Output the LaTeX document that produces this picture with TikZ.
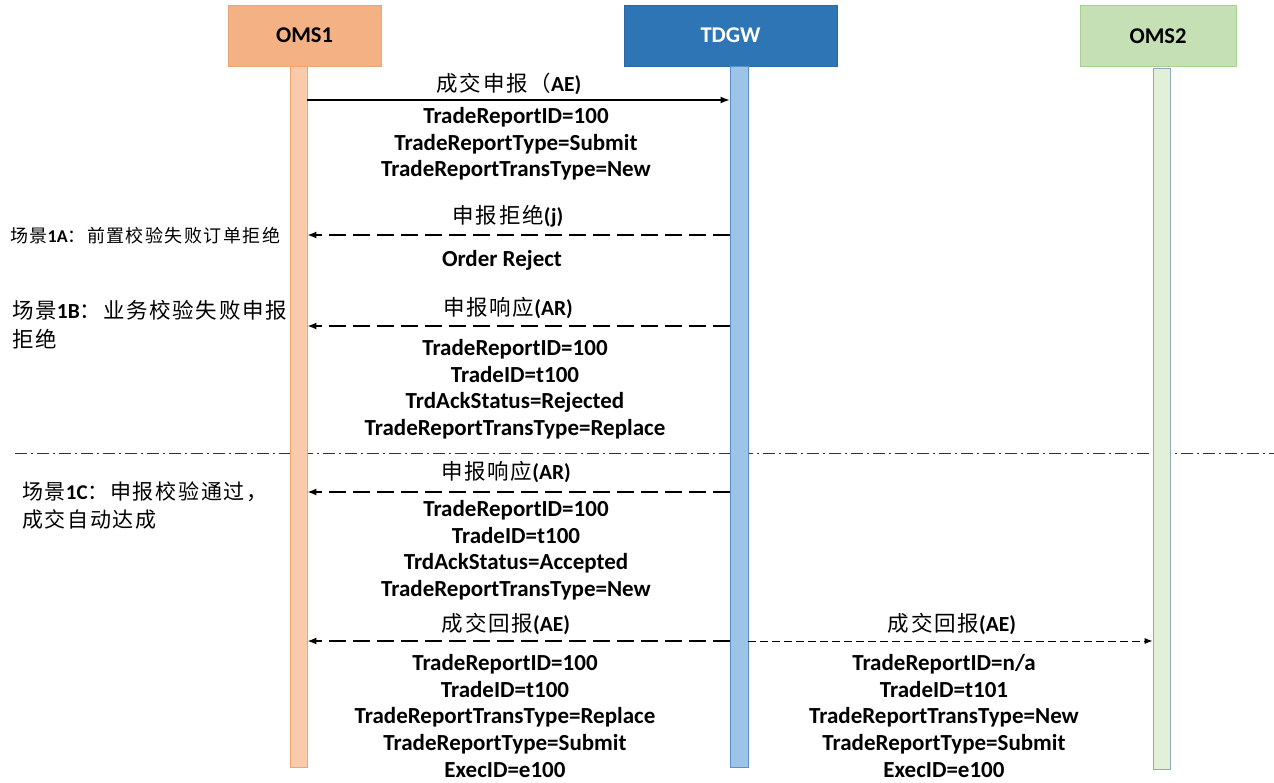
\documentclass[tikz,border=0pt]{standalone}
\usepackage{fontspec}
\setmainfont{Carlito}
\newfontfamily\cjk{Noto Sans CJK SC}[LetterSpace=8]
\usetikzlibrary{arrows.meta}
\newcommand\cj[1]{{\cjk\mdseries #1}}
\definecolor{oms1h}{HTML}{F4B183}
\definecolor{oms1hb}{HTML}{E9A677}
\definecolor{tdgwh}{HTML}{2E75B6}
\definecolor{tdgwhb}{HTML}{2A69A4}
\definecolor{oms2h}{HTML}{C5E0B4}
\definecolor{oms2hb}{HTML}{A9D18E}
\definecolor{l1f}{HTML}{F8CBAD}
\definecolor{l1b}{HTML}{F4A46E}
\definecolor{l2f}{HTML}{9DC3E6}
\definecolor{l2b}{HTML}{5B8FC5}
\definecolor{l3f}{HTML}{E2F0D9}
\definecolor{l3b}{HTML}{8EA9C1}
\tikzset{
  hdr/.style={rectangle, minimum width=153, minimum height=61, inner sep=0, line width=0.8pt,
    font=\bfseries\fontsize{22.5}{26}\selectfont},
  life/.style={rectangle, minimum width=17, minimum height=701, inner sep=0, line width=0.8pt},
  msgsolid/.style={line width=1.3pt, -{Latex[length=9pt,width=7pt]}},
  msgdash/.style={line width=1.5pt, dash pattern=on 17pt off 7pt, -{Latex[length=9pt,width=7pt]}},
  msgfine/.style={line width=0.9pt, dash pattern=on 8pt off 4pt, -{Latex[length=8pt,width=6pt]}},
  sepline/.style={line width=1pt, black!80, dash pattern=on 12pt off 4pt on 2pt off 4pt},
  lab/.style={inner sep=0, font=\bfseries\fontsize{21.5}{24}\selectfont},
  body/.style={inner sep=0, align=center, anchor=north, font=\bfseries\fontsize{23}{26.8}\selectfont},
  side/.style={inner sep=0, align=left, anchor=north west},
}
\begin{document}
\begin{tikzpicture}[x=1pt,y=-1pt]
\useasboundingbox[fill=white] (0,0) rectangle (1274,782);

% scenario separator
\coordinate (s0) at (15,453);
\coordinate (s1) at (1274,453);
\draw[sepline] (s0) -- (s1);

% headers
\node[hdr, fill=oms1h, draw=oms1hb] (h1) at (304.5,35.5) {OMS1};
\node[hdr, fill=tdgwh, draw=tdgwhb, text=white, minimum width=213] (h2) at (730.5,35.5) {TDGW};
\node[hdr, fill=oms2h, draw=oms2hb, minimum width=156] (h3) at (1158,36) {OMS2};

% lifelines
\node[life, fill=l1f, draw=l1b] (l1) at (298.5,416.5) {};
\node[life, fill=l2f, draw=l2b, minimum width=18] (l2) at (739,416.5) {};
\node[life, fill=l3f, draw=l3b] (l3) at (1161.5,418.5) {};

% message levels
\coordinate (y1) at (0,100);
\coordinate (y2) at (0,235);
\coordinate (y3) at (0,326);
\coordinate (y4) at (0,492);
\coordinate (y5) at (0,641);

\draw[msgsolid] (l1.east |- y1) -- (l2.west |- y1);
\draw[msgdash] (l2.west |- y2) -- (l1.east |- y2);
\draw[msgdash] (l2.west |- y3) -- (l1.east |- y3);
\draw[msgdash] (l2.west |- y4) -- (l1.east |- y4);
\draw[msgdash] (l2.west |- y5) -- (l1.east |- y5);
\draw[msgfine] (l2.east |- y5) -- (l3.west |- y5);

% labels
\node[lab] (t1) at (509,84) {\cj{成交申报（}AE)};
\node[body] (b1) at (516,107) {TradeReportID=100\\TradeReportType=Submit\\TradeReportTransType=New};

\node[lab] (t2) at (508,216) {\cj{申报拒绝}(j)};
\node[body] (b2) at (502,250) {Order Reject};

\node[lab] (t3) at (508,308) {\cj{申报响应}(AR)};
\node[body] (b3) at (515,339) {TradeReportID=100\\TradeID=t100\\TrdAckStatus=Rejected\\TradeReportTransType=Replace};

\node[lab] (t4) at (506,472) {\cj{申报响应}(AR)};
\node[body] (b4) at (516,500) {TradeReportID=100\\TradeID=t100\\TrdAckStatus=Accepted\\TradeReportTransType=New};

\node[lab] (t5) at (506,624) {\cj{成交回报}(AE)};
\node[body] (b5) at (505,654) {TradeReportID=100\\TradeID=t100\\TradeReportTransType=Replace\\TradeReportType=Submit\\ExecID=e100};

\node[lab] (t6) at (952,624) {\cj{成交回报}(AE)};
\node[body] (b6) at (944,654) {TradeReportID=n/a\\TradeID=t101\\TradeReportTransType=New\\TradeReportType=Submit\\ExecID=e100};

% scenario notes
\node[side, anchor=west, font=\bfseries\fontsize{18}{22}\selectfont] (n1) at (10,236) {\cj{场景}1A\cj{：前置校验失败订单拒绝}};
\node[side, font=\bfseries\fontsize{21.5}{29}\selectfont] (n2) at (12,300.5) {\cj{场景}1B\cj{：业务校验失败申报}\\\cj{拒绝}};
\node[side, font=\bfseries\fontsize{21}{28}\selectfont] (n3) at (22,481.5) {\cj{场景}1C\cj{：申报校验通过，}\\\cj{成交自动达成}};
\end{tikzpicture}
\end{document}
